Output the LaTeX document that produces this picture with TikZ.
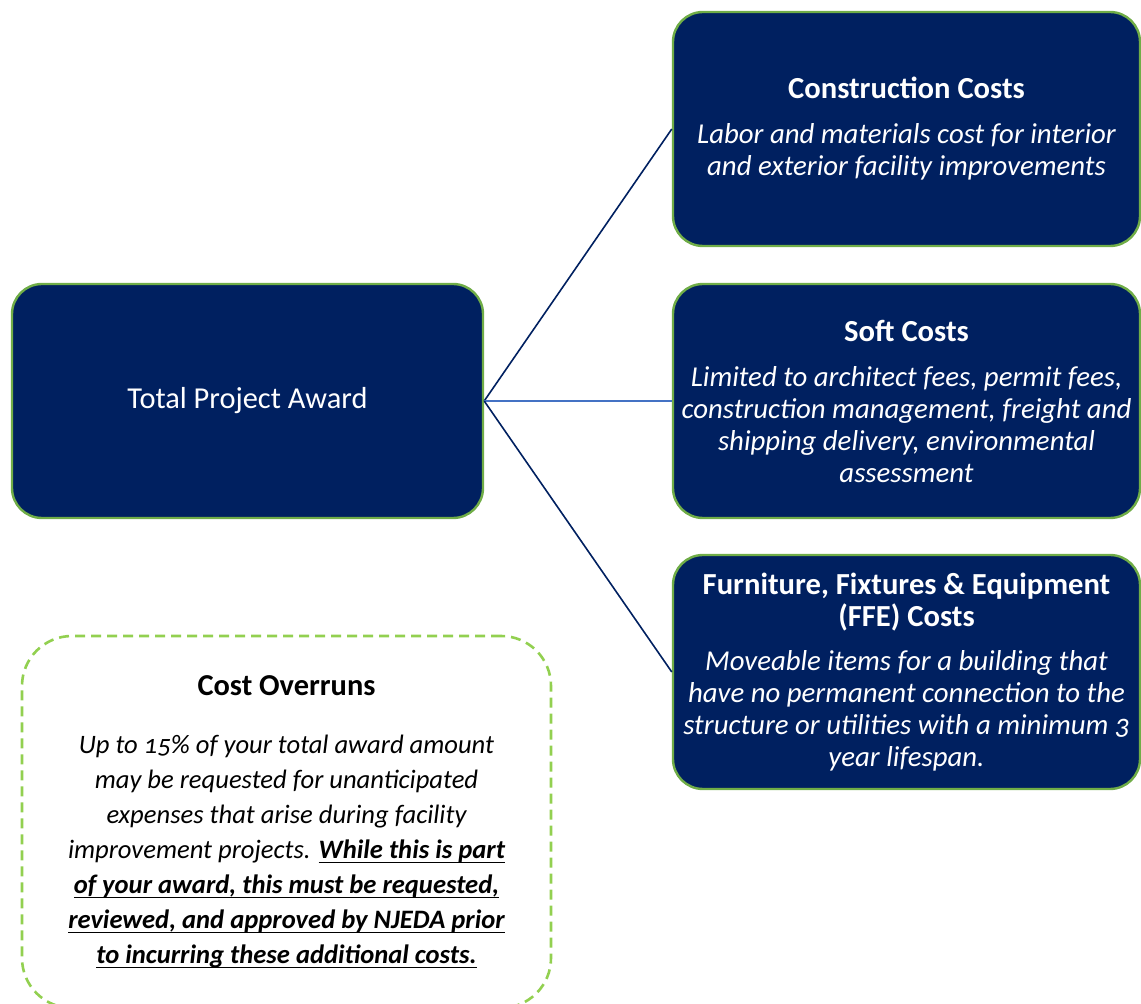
\documentclass[tikz,border=0pt]{standalone}
\usepackage{fontspec}
\setmainfont{Carlito}[Numbers=OldStyle]
\usepackage{xcolor}
\definecolor{awardnavy}{HTML}{002060}
\definecolor{awardgreen}{HTML}{70AD47}
\definecolor{overrungreen}{HTML}{92D050}
\definecolor{softline}{HTML}{4472C4}

% underline at a fixed depth below the baseline
\newcommand\overrunul[1]{\setbox0\hbox{#1}\rlap{\rule[-2.2pt]{\wd0}{0.75pt}}\box0}
\newcommand\costhead[1]{{\upshape\bfseries\fontsize{15.3}{16}\selectfont #1}}

\tikzset{
	costbox/.style={draw=awardgreen, line width=1.2pt, fill=awardnavy,
		rounded corners=15pt, text=white, align=center, inner sep=0pt,
		minimum width=233.5pt, minimum height=117pt,
		font=\itshape\fontsize{14.4}{16}\selectfont},
	branch/.style={draw=awardnavy, line width=0.8pt},
}

\begin{document}
\begin{tikzpicture}[x=0.5pt,y=-0.5pt]
		\useasboundingbox (0,0) rectangle (1141,1004);
		%
		\node [costbox, minimum width=235.5pt, font=\fontsize{15.2}{18}\selectfont]
			(total) at (247.5,401) {Total Project Award};
		%
		\node [costbox] (construction) at (906.5,129)
			{\costhead{Construction Costs}\\[6.5pt]
			 Labor and materials cost for interior\\
			 and exterior facility improvements};
		\node [costbox] (soft) at (906.5,401)
			{\costhead{Soft Costs}\\[6.5pt]
			 Limited to architect fees, permit fees,\\
			 construction management, freight and\\
			 shipping delivery, environmental\\
			 assessment};
		\node [costbox] (ffe) at (906.5,672)
			{\costhead{Furniture, Fixtures \& Equipment}\\
			 \costhead{(FFE) Costs}\\[6pt]
			 Moveable items for a building that\\
			 have no permanent connection to the\\
			 structure or utilities with a minimum 3\\
			 year lifespan.};
		%
		\draw [branch] (total.east) -- (construction.west);
		\draw [branch, draw=softline, line width=1pt] (total.east) -- (soft.west);
		\draw [branch] (total.east) -- (ffe.west);
		%
		\node [draw=overrungreen, line width=1.3pt, dash pattern=on 5pt off 3pt,
			rounded corners=25pt, align=center, inner sep=0pt,
			minimum width=264.5pt, minimum height=186pt,
			font=\itshape\fontsize{13.3}{17.5}\selectfont] (overrun) at (286.5,822)
			{{\upshape\bfseries\fontsize{15.2}{17.5}\selectfont Cost Overruns}\\[11.5pt]
			 Up to 15\% of your total award amount\\
			 may be requested for unanticipated\\
			 expenses that arise during facility\\
			 improvement projects. \overrunul{\bfseries While this is part}\\
			 \overrunul{\bfseries of your award, this must be requested,}\\
			 \overrunul{\bfseries reviewed, and approved by NJEDA prior}\\
			 \overrunul{\bfseries to incurring these additional costs.}};
	\end{tikzpicture}
\end{document}
